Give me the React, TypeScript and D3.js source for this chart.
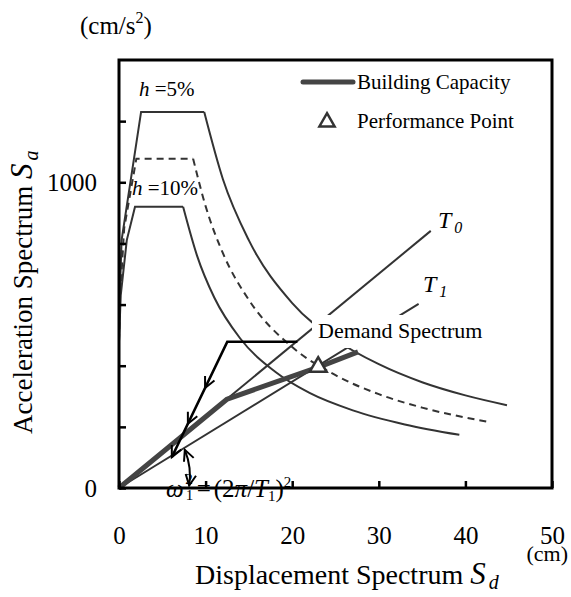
import * as d3 from "d3";
import { useEffect, useRef } from "react";

type Pt = [number, number];

// demand spectrum h = 5% (Sd cm, Sa cm/s2)
const demand5Rise: Pt[] = [[0, 480], [0.08, 620], [0.3, 811], [2.55, 1230], [9.84, 1230]];
const demand5Decay: Pt[] = [[9.84, 1230], [12, 1010], [15, 810], [20, 605], [25, 485], [30, 405], [35, 346], [40, 303], [44.8, 271]];
// equivalent damping demand (dashed)
const demandEqRise: Pt[] = [[0, 480], [0.12, 620], [0.6, 850], [2.0, 1077], [8.56, 1077]];
const demandEqDecay: Pt[] = [[8.56, 1077], [10, 922], [12, 768], [15, 615], [20, 461], [25, 369], [30, 307], [35, 263], [42.5, 217]];
// demand spectrum h = 10%
const demand10Rise: Pt[] = [[0, 480], [0.2, 630], [0.9, 811], [1.85, 920], [7.4, 920]];
const demand10Decay: Pt[] = [[7.4, 920], [9, 761], [11, 623], [14, 489], [18, 381], [22, 311], [27, 254], [33, 208], [39.3, 174]];

const capacity: Pt[] = [[0, 0], [12.5, 291], [23.2, 397], [27.6, 445]];
const perfPoint: Pt = [23.0, 396];
const lineT0: Pt[] = [[0, 0], [36.0, 841]];
const lineT1: Pt[] = [[0, 0], [34.6, 602]];
const demandArrow: Pt[] = [[20.6, 478], [12.5, 478], [6.1, 101]];
const omegaArrow: Pt[] = [[7.6, 125], [8.1, 8]];

const xTicks = [0, 10, 20, 30, 40, 50];
const yTicks = [0, 200, 400, 600, 800, 1000, 1200];
const yTickLabels = [0, 1000];

const FONT = `"Liberation Serif", "Times New Roman", serif`;

export default function App() {
    const svgRef = useRef<SVGSVGElement | null>(null);

    useEffect(() => {
        document.body.style.margin = "0";
        const width = 571;
        const height = 597;
        const left = 119, right = 552, top = 60, bottom = 488;

        const x = d3.scaleLinear().domain([0, 50]).range([left, right]);
        const y = d3.scaleLinear().domain([0, 1400]).range([bottom, top]);

        const svg = d3.select(svgRef.current);
        svg.selectAll("*").remove();
        svg.attr("viewBox", `0 0 ${width} ${height}`).attr("font-family", FONT);

        const line = d3.line<Pt>().x((d) => x(d[0])).y((d) => y(d[1]));
        const smooth = d3.line<Pt>().x((d) => x(d[0])).y((d) => y(d[1])).curve(d3.curveMonotoneX);

        const g = svg.append("g");

        // demand curves
        const curves: [Pt[], Pt[], boolean][] = [
            [demand5Rise, demand5Decay, false],
            [demandEqRise, demandEqDecay, true],
            [demand10Rise, demand10Decay, false],
        ];
        curves.forEach(([rise, decay, dashed]) => {
            [line(rise), smooth(decay)].forEach((dpath) => {
                g.append("path")
                    .attr("d", dpath!)
                    .attr("fill", "none")
                    .attr("stroke", "#333")
                    .attr("stroke-width", 2)
                    .attr("stroke-dasharray", dashed ? "7,5" : null);
            });
        });

        // period lines
        [lineT0, lineT1].forEach((l) => {
            g.append("path")
                .attr("d", line(l)!)
                .attr("fill", "none")
                .attr("stroke", "#333")
                .attr("stroke-width", 2);
        });

        // capacity
        g.append("path")
            .attr("d", line(capacity)!)
            .attr("fill", "none")
            .attr("stroke", "#444")
            .attr("stroke-width", 5)
            .attr("stroke-linejoin", "round");

        // arrows
        const arrowHead = (px: number, py: number, angle: number) => {
            const a = 0.45, len = 12;
            const p1: [number, number] = [px - len * Math.cos(angle - a), py - len * Math.sin(angle - a)];
            const p2: [number, number] = [px - len * Math.cos(angle + a), py - len * Math.sin(angle + a)];
            g.append("path")
                .attr("d", `M${p1[0]},${p1[1]}L${px},${py}L${p2[0]},${p2[1]}`)
                .attr("fill", "none")
                .attr("stroke", "#000")
                .attr("stroke-width", 2);
        };

        g.append("path")
            .attr("d", line(demandArrow)!)
            .attr("fill", "none")
            .attr("stroke", "#000")
            .attr("stroke-width", 2.5);
        const a0 = [x(demandArrow[1][0]), y(demandArrow[1][1])];
        const a1 = [x(demandArrow[2][0]), y(demandArrow[2][1])];
        const ang = Math.atan2(a1[1] - a0[1], a1[0] - a0[0]);
        [0.4, 0.71, 1].forEach((t) => {
            arrowHead(a0[0] + (a1[0] - a0[0]) * t, a0[1] + (a1[1] - a0[1]) * t, ang);
        });

        const o0 = [x(omegaArrow[0][0]), y(omegaArrow[0][1])];
        const o1 = [x(omegaArrow[1][0]), y(omegaArrow[1][1])];
        const cx = (o0[0] + o1[0]) / 2 + 5, cy = (o0[1] + o1[1]) / 2;
        g.append("path")
            .attr("d", `M${o0[0]},${o0[1]}Q${cx},${cy} ${o1[0]},${o1[1]}`)
            .attr("fill", "none")
            .attr("stroke", "#000")
            .attr("stroke-width", 2);
        arrowHead(o0[0], o0[1], Math.atan2(o0[1] - cy, o0[0] - cx));
        arrowHead(o1[0], o1[1], Math.atan2(o1[1] - cy, o1[0] - cx));

        // performance point
        g.append("path")
            .attr("d", d3.symbol().type(d3.symbolTriangle).size(125)()!)
            .attr("transform", `translate(${x(perfPoint[0])},${y(perfPoint[1])})`)
            .attr("fill", "#fff")
            .attr("stroke", "#333")
            .attr("stroke-width", 2.5);

        // demand spectrum label
        g.append("rect").attr("x", 312).attr("y", 315).attr("width", 178).attr("height", 33).attr("fill", "#fff");
        g.append("text").attr("x", 318).attr("y", 338).attr("font-size", 22).text("Demand Spectrum");

        // T labels
        const tLabel = (tx: number, ty: number, sub: string) => {
            const t = g.append("text").attr("x", tx).attr("y", ty).attr("font-size", 24).attr("font-style", "italic");
            t.append("tspan").text("T");
            t.append("tspan").attr("dx", 3).attr("dy", 5).attr("font-size", 16).text(sub);
        };
        tLabel(438, 228, "0");
        tLabel(423, 292, "1");

        // h labels
        const hLabel = (tx: number, ty: number, s: string) => {
            const t = g.append("text").attr("x", tx).attr("y", ty).attr("font-size", 21);
            t.append("tspan").attr("font-style", "italic").text("h");
            t.append("tspan").text(" =" + s);
        };
        hLabel(139, 96, "5%");
        hLabel(132, 195, "10%");

        // legend
        g.append("line").attr("x1", 303).attr("x2", 353).attr("y1", 82).attr("y2", 82)
            .attr("stroke", "#444").attr("stroke-width", 5).attr("stroke-linecap", "round");
        g.append("text").attr("x", 357).attr("y", 89).attr("font-size", 21).text("Building Capacity");
        g.append("path")
            .attr("d", d3.symbol().type(d3.symbolTriangle).size(100)()!)
            .attr("transform", "translate(327,122)")
            .attr("fill", "#fff").attr("stroke", "#333").attr("stroke-width", 2.5);
        g.append("text").attr("x", 357).attr("y", 128).attr("font-size", 21).text("Performance Point");

        // omega formula
        const f = g.append("text").attr("x", 166).attr("y", 497).attr("font-size", 25);
        f.append("tspan").attr("font-style", "italic").text("ω");
        f.append("tspan").attr("dx", 2).attr("dy", 3).attr("font-size", 15).text("1");
        f.append("tspan").attr("dx", -8).attr("dy", -16).attr("font-size", 15).text("2");
        f.append("tspan").attr("dx", 4).attr("dy", 13).text("=");
        f.append("tspan").attr("dx", 3).text("(2");
        f.append("tspan").attr("font-style", "italic").text("π");
        f.append("tspan").text("/");
        f.append("tspan").attr("font-style", "italic").text("T");
        f.append("tspan").attr("dy", 4).attr("font-size", 15).text("1");
        f.append("tspan").attr("dy", -4).text(")");
        f.append("tspan").attr("dy", -10).attr("font-size", 15).text("2");

        // frame
        g.append("rect")
            .attr("x", left).attr("y", top)
            .attr("width", right - left).attr("height", bottom - top)
            .attr("fill", "none").attr("stroke", "#000").attr("stroke-width", 3);

        // ticks
        const xAxis = g.append("g")
            .attr("transform", `translate(0,${bottom})`)
            .call(d3.axisBottom(x).tickValues(xTicks).tickSize(-7).tickPadding(38).tickFormat(d3.format("d")));
        xAxis.select(".domain").remove();
        xAxis.selectAll("line").attr("stroke", "#000").attr("stroke-width", 2.5);
        xAxis.selectAll("text").attr("font-size", 25).attr("font-family", FONT).attr("fill", "#000");

        const yAxis = g.append("g")
            .attr("transform", `translate(${left},0)`)
            .call(d3.axisLeft(y).tickValues(yTicks).tickSize(-7).tickPadding(22)
                .tickFormat((d) => (yTickLabels.includes(+d) ? String(d) : "")));
        yAxis.select(".domain").remove();
        yAxis.selectAll("line").attr("stroke", "#000").attr("stroke-width", 2.5);
        yAxis.selectAll("text").attr("font-size", 25).attr("font-family", FONT).attr("fill", "#000");

        // units
        const u = g.append("text").attr("x", 80).attr("y", 34).attr("font-size", 25);
        u.append("tspan").text("(cm/s");
        u.append("tspan").attr("dy", -11).attr("font-size", 16).text("2");
        u.append("tspan").attr("dy", 11).text(")");
        g.append("text").attr("x", 568).attr("y", 561).attr("text-anchor", "end").attr("font-size", 22).text("(cm)");

        // axis titles
        const xt = g.append("text").attr("x", 195).attr("y", 584).attr("font-size", 28);
        xt.append("tspan").text("Displacement Spectrum ");
        xt.append("tspan").attr("font-style", "italic").attr("font-size", 31).text("S");
        xt.append("tspan").attr("font-style", "italic").attr("font-size", 20).attr("dx", 3).attr("dy", 5).text("d");

        const yt = g.append("text").attr("transform", "translate(32,434) rotate(-90)").attr("font-size", 27);
        yt.append("tspan").text("Acceleration Spectrum ");
        yt.append("tspan").attr("font-style", "italic").attr("font-size", 31).text("S");
        yt.append("tspan").attr("font-style", "italic").attr("font-size", 20).attr("dx", 3).attr("dy", 6).text("a");
    }, []);

    return <svg ref={svgRef} width={571} height={597} style={{ display: "block" }}></svg>;
}
